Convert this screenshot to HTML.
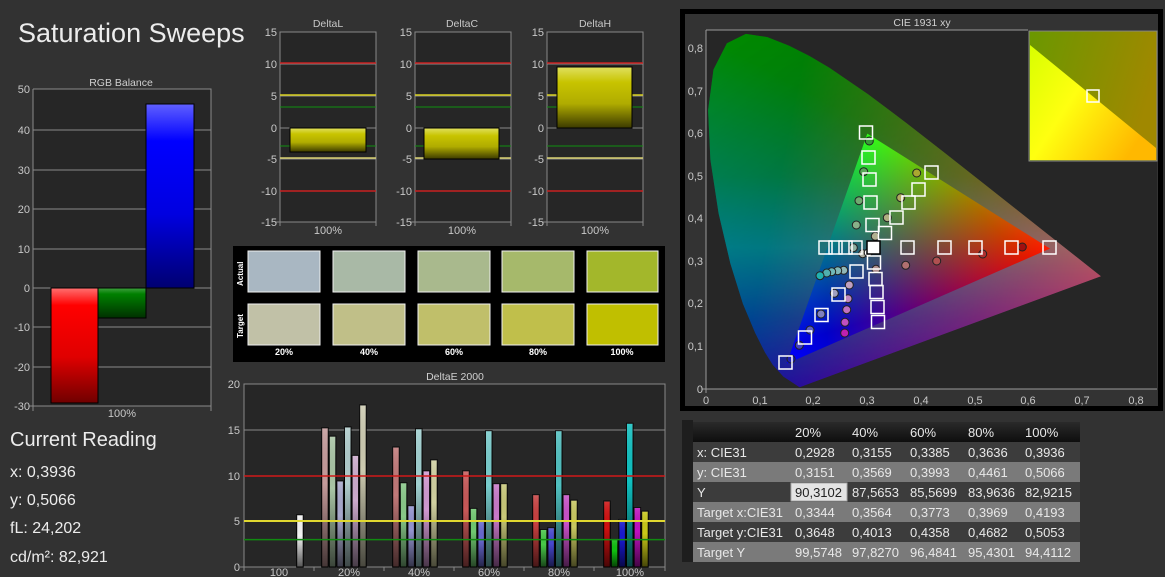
<!DOCTYPE html>
<html><head><meta charset="utf-8"><style>
html,body{margin:0;padding:0;background:#323232;}
svg{display:block;font-family:"Liberation Sans",sans-serif;}
</style></head><body>
<svg width="1165" height="577" viewBox="0 0 1165 577" xmlns="http://www.w3.org/2000/svg">
<defs>
<linearGradient id="yb" x1="0" y1="0" x2="0" y2="1"><stop offset="0" stop-color="#e0e060"/><stop offset="0.25" stop-color="#c8c400"/><stop offset="0.6" stop-color="#b0ac00"/><stop offset="1" stop-color="#3c3a00"/></linearGradient>
<linearGradient id="rb" x1="0" y1="0" x2="0" y2="1"><stop offset="0" stop-color="#ff7070"/><stop offset="0.15" stop-color="#ff0000"/><stop offset="0.6" stop-color="#e00000"/><stop offset="1" stop-color="#700000"/></linearGradient>
<linearGradient id="gb" x1="0" y1="0" x2="0" y2="1"><stop offset="0" stop-color="#40a040"/><stop offset="0.2" stop-color="#008000"/><stop offset="1" stop-color="#003000"/></linearGradient>
<linearGradient id="bb" x1="0" y1="0" x2="0" y2="1"><stop offset="0" stop-color="#6060ff"/><stop offset="0.2" stop-color="#0000ff"/><stop offset="0.6" stop-color="#0000e0"/><stop offset="1" stop-color="#000070"/></linearGradient>
<linearGradient id="sh" x1="0" y1="0" x2="0" y2="1"><stop offset="0" stop-color="#fff" stop-opacity="0.15"/><stop offset="0.4" stop-color="#000" stop-opacity="0"/><stop offset="1" stop-color="#000" stop-opacity="0.65"/></linearGradient>
<linearGradient id="thd" x1="0" y1="0" x2="0" y2="1"><stop offset="0" stop-color="#2a2a2a"/><stop offset="1" stop-color="#0e0e0e"/></linearGradient>
<linearGradient id="gR" gradientUnits="userSpaceOnUse" x1="1050" y1="248.6" x2="827" y2="248.7"><stop offset="0" stop-color="#f00"/><stop offset="1" stop-color="#000"/></linearGradient>
<linearGradient id="gG" gradientUnits="userSpaceOnUse" x1="867.3" y1="133.6" x2="918.3" y2="306.2"><stop offset="0" stop-color="#0f0"/><stop offset="1" stop-color="#000"/></linearGradient>
<linearGradient id="gB" gradientUnits="userSpaceOnUse" x1="786.6" y1="363.7" x2="958.7" y2="191.1"><stop offset="0" stop-color="#00f"/><stop offset="1" stop-color="#000"/></linearGradient>
<linearGradient id="hR" gradientUnits="userSpaceOnUse" x1="1101" y1="276.3" x2="771.9" y2="211.4"><stop offset="0" stop-color="#f00"/><stop offset="1" stop-color="#000"/></linearGradient>
<linearGradient id="hG" gradientUnits="userSpaceOnUse" x1="746.3" y1="33.4" x2="949.2" y2="332.8"><stop offset="0" stop-color="#0f0"/><stop offset="1" stop-color="#000"/></linearGradient>
<linearGradient id="hB" gradientUnits="userSpaceOnUse" x1="797.4" y1="389.3" x2="923.7" y2="154.9"><stop offset="0" stop-color="#00f"/><stop offset="1" stop-color="#000"/></linearGradient>
<linearGradient id="hBase" gradientUnits="userSpaceOnUse" x1="0" y1="35" x2="0" y2="389"><stop offset="0" stop-color="#006a00"/><stop offset="0.4" stop-color="#007a30"/><stop offset="0.6" stop-color="#008a88"/><stop offset="0.8" stop-color="#003a88"/><stop offset="1" stop-color="#100090"/></linearGradient>
<clipPath id="horse"><polygon points="799.6,387.2 783.4,376.6 772.7,364.7 764.9,352.3 755.1,332.7 742.9,303.8 730.4,263.6 718.6,213.4 710.4,159.8 708.1,110.2 713.5,69.5 726.9,43.2 745.9,33.9 767.4,37.1 789.2,45.8 809.7,56.1 829.4,67.8 868.1,94.2 906.5,123.1 944.7,152.9 981.5,181.9 1015.2,208.5 1043,230.5 1077.7,257.9 1092.5,269.6 1100.9,276.2"/></clipPath>
<clipPath id="tri"><polygon points="1050,248.6 867.3,133.6 786.6,363.7"/></clipPath>
<linearGradient id="ins1" x1="0" y1="0" x2="1" y2="0.3"><stop offset="0" stop-color="#6a9800"/><stop offset="1" stop-color="#a08800"/></linearGradient>
<linearGradient id="ins2" x1="0" y1="0" x2="1" y2="0.6"><stop offset="0" stop-color="#d8ff00"/><stop offset="0.45" stop-color="#ffff10"/><stop offset="1" stop-color="#ffb800"/></linearGradient>
</defs>

<rect width="1165" height="577" fill="#323232"/>
<text x="18" y="42" font-size="27" fill="#ececec">Saturation Sweeps</text>

<text x="121" y="86" font-size="10.5" fill="#d0d0d0" text-anchor="middle">RGB Balance</text>
<rect x="33" y="89" width="178" height="317" fill="#262626"/>
<g stroke="#8a8a8a" stroke-width="1">
<line x1="33" y1="130" x2="211" y2="130"/><line x1="33" y1="170" x2="211" y2="170"/><line x1="33" y1="209" x2="211" y2="209"/><line x1="33" y1="249" x2="211" y2="249"/><line x1="33" y1="288" x2="211" y2="288"/><line x1="33" y1="327" x2="211" y2="327"/><line x1="33" y1="367" x2="211" y2="367"/>
<polyline points="33,89 211,89 211,411" fill="none"/><polyline points="33,89 33,411" fill="none"/><line x1="29" y1="406" x2="211" y2="406"/>
</g>
<g font-size="11" fill="#c8c8c8" text-anchor="end">
<text x="30" y="93">50</text><text x="30" y="134">40</text><text x="30" y="174">30</text><text x="30" y="213">20</text><text x="30" y="253">10</text><text x="30" y="292">0</text><text x="30" y="331">-10</text><text x="30" y="371">-20</text><text x="30" y="410">-30</text>
</g>
<rect x="51" y="288" width="47" height="115" fill="url(#rb)" stroke="#000"/>
<rect x="98" y="288" width="48" height="30" fill="url(#gb)" stroke="#000"/>
<rect x="146" y="104" width="48" height="184" fill="url(#bb)" stroke="#000"/>
<text x="122" y="417" font-size="11" fill="#c8c8c8" text-anchor="middle">100%</text>

<text x="10" y="446" font-size="20" fill="#ececec">Current Reading</text>
<g font-size="16" fill="#ececec">
<text x="10" y="477">x: 0,3936</text><text x="10" y="505">y: 0,5066</text><text x="10" y="533">fL: 24,202</text><text x="10" y="562">cd/m²: 82,921</text>
</g>

<g font-size="11" fill="#c8c8c8">
<text x="328" y="27" text-anchor="middle" font-size="10.5">DeltaL</text>
<text x="462" y="27" text-anchor="middle" font-size="10.5">DeltaC</text>
<text x="595" y="27" text-anchor="middle" font-size="10.5">DeltaH</text>
</g>
<g id="dl">
<rect x="280" y="32" width="96" height="190" fill="#262626"/>
<g stroke="#888"><line x1="280" y1="64" x2="376" y2="64"/><line x1="280" y1="96" x2="376" y2="96"/><line x1="280" y1="128" x2="376" y2="128"/><line x1="280" y1="159" x2="376" y2="159"/><line x1="280" y1="191" x2="376" y2="191"/><polyline points="280,226 280,32 376,32 376,226" fill="none"/><line x1="276" y1="222" x2="376" y2="222"/></g>
<line x1="280" y1="63" x2="376" y2="63" stroke="#c82020" stroke-width="1.5"/><line x1="280" y1="191" x2="376" y2="191" stroke="#c82020" stroke-width="1.5"/>
<line x1="280" y1="95" x2="376" y2="95" stroke="#d8d020" stroke-width="1.5"/><line x1="280" y1="158" x2="376" y2="158" stroke="#d8d070" stroke-width="1.5"/>
<line x1="280" y1="107" x2="376" y2="107" stroke="#109010"/><line x1="280" y1="146" x2="376" y2="146" stroke="#109010"/>
</g>
<use href="#dl" x="135"/>
<use href="#dl" x="267"/>
<g font-size="11" fill="#c8c8c8" text-anchor="end">
<text x="277" y="36">15</text><text x="277" y="68">10</text><text x="277" y="100">5</text><text x="277" y="132">0</text><text x="277" y="163">-5</text><text x="277" y="195">-10</text><text x="277" y="226">-15</text>
<text x="412" y="36">15</text><text x="412" y="68">10</text><text x="412" y="100">5</text><text x="412" y="132">0</text><text x="412" y="163">-5</text><text x="412" y="195">-10</text><text x="412" y="226">-15</text>
<text x="544" y="36">15</text><text x="544" y="68">10</text><text x="544" y="100">5</text><text x="544" y="132">0</text><text x="544" y="163">-5</text><text x="544" y="195">-10</text><text x="544" y="226">-15</text>
</g>
<rect x="290" y="128" width="76" height="24" fill="url(#yb)" stroke="#000"/>
<rect x="424" y="128" width="75" height="31" fill="url(#yb)" stroke="#000"/>
<rect x="557" y="67" width="75" height="61" fill="url(#yb)" stroke="#000"/>
<g font-size="11" fill="#c8c8c8" text-anchor="middle"><text x="328" y="234">100%</text><text x="462" y="234">100%</text><text x="595" y="234">100%</text></g>

<rect x="233" y="246" width="432" height="116" fill="#000"/>
<g stroke="#f0f0f0" stroke-width="1">
<rect x="248" y="251" width="72" height="41" fill="#a9b7c2"/><rect x="333" y="251" width="72" height="41" fill="#a9b9a6"/><rect x="418" y="251" width="72" height="41" fill="#a9b98d"/><rect x="502" y="251" width="72" height="41" fill="#a6b96b"/><rect x="587" y="251" width="71" height="41" fill="#a3b72b"/>
<rect x="248" y="304" width="72" height="41" fill="#c1c1a7"/><rect x="333" y="304" width="72" height="41" fill="#c0bf88"/><rect x="418" y="304" width="72" height="41" fill="#c0bf6a"/><rect x="502" y="304" width="72" height="41" fill="#c0bf4b"/><rect x="587" y="304" width="71" height="41" fill="#c0bf00"/>
</g>
<g font-size="8" fill="#fff" font-weight="bold">
<text transform="translate(243,286) rotate(-90)">Actual</text><text transform="translate(243,338) rotate(-90)">Target</text>
</g>
<g font-size="9" fill="#fff" font-weight="bold" text-anchor="middle"><text x="284" y="355">20%</text><text x="369" y="355">40%</text><text x="454" y="355">60%</text><text x="538" y="355">80%</text><text x="622" y="355">100%</text></g>

<text x="455" y="380" font-size="10.5" fill="#d0d0d0" text-anchor="middle">DeltaE 2000</text>
<rect x="244" y="384" width="421" height="183" fill="#262626"/>
<g stroke="#888"><line x1="244" y1="430" x2="665" y2="430"/><line x1="244" y1="476" x2="665" y2="476"/><line x1="244" y1="521" x2="665" y2="521"/><polyline points="244,571 244,384 665,384 665,571" fill="none"/><line x1="240" y1="567" x2="665" y2="567"/>
<line x1="314" y1="567" x2="314" y2="571"/><line x1="384" y1="567" x2="384" y2="571"/><line x1="454" y1="567" x2="454" y2="571"/><line x1="524" y1="567" x2="524" y2="571"/><line x1="594" y1="567" x2="594" y2="571"/></g>
<g font-size="11" fill="#c8c8c8" text-anchor="end"><text x="240" y="388">20</text><text x="240" y="434">15</text><text x="240" y="480">10</text><text x="240" y="525">5</text><text x="240" y="571">0</text></g>
<g font-size="11" fill="#c8c8c8" text-anchor="middle"><text x="279" y="576">100</text><text x="349" y="576">20%</text><text x="419" y="576">40%</text><text x="489" y="576">60%</text><text x="559" y="576">80%</text><text x="630" y="576">100%</text></g>
<g stroke="#000" stroke-width="1">
<rect x="296.7" y="514.8" width="6.5" height="52.2" fill="#f4f4f4"/>
<rect x="321.7" y="427.9" width="6.5" height="139.1" fill="#c49a9a"/><rect x="329.3" y="436.2" width="6.5" height="130.8" fill="#a8c4a4"/><rect x="336.9" y="481" width="6.5" height="86" fill="#a8a8cc"/><rect x="344.5" y="427" width="6.5" height="140" fill="#b0cccc"/><rect x="352.1" y="455.4" width="6.5" height="111.6" fill="#ccaacc"/><rect x="359.7" y="405" width="6.5" height="162" fill="#cccab0"/>
<rect x="392.7" y="447.1" width="6.5" height="119.9" fill="#c07878"/><rect x="400.3" y="482.8" width="6.5" height="84.2" fill="#88c888"/><rect x="407.9" y="505.7" width="6.5" height="61.3" fill="#9494d0"/><rect x="415.5" y="428.8" width="6.5" height="138.2" fill="#a0d0d0"/><rect x="423.1" y="470.9" width="6.5" height="96.1" fill="#d098d0"/><rect x="430.7" y="459.9" width="6.5" height="107.1" fill="#d0d0a0"/>
<rect x="462.7" y="470.9" width="6.5" height="96.1" fill="#c85858"/><rect x="470.3" y="508.4" width="6.5" height="58.6" fill="#70c870"/><rect x="477.9" y="521.2" width="6.5" height="45.8" fill="#6868d0"/><rect x="485.5" y="430.7" width="6.5" height="136.3" fill="#78cccc"/><rect x="493.1" y="483.7" width="6.5" height="83.3" fill="#c878c8"/><rect x="500.7" y="483.7" width="6.5" height="83.3" fill="#c8c878"/>
<rect x="532.7" y="494.7" width="6.5" height="72.3" fill="#c84040"/><rect x="540.3" y="529.5" width="6.5" height="37.5" fill="#48c848"/><rect x="547.9" y="527.7" width="6.5" height="39.3" fill="#4848d0"/><rect x="555.5" y="430.7" width="6.5" height="136.3" fill="#50c0c0"/><rect x="563.1" y="494.7" width="6.5" height="72.3" fill="#c850c8"/><rect x="570.7" y="500.2" width="6.5" height="66.8" fill="#c8c860"/>
<rect x="603.7" y="501.1" width="6.5" height="65.9" fill="#d01010"/><rect x="611.3" y="539.5" width="6.5" height="27.5" fill="#10c010"/><rect x="618.9" y="519.4" width="6.5" height="47.6" fill="#1818d0"/><rect x="626.5" y="423.3" width="6.5" height="143.7" fill="#10c0c0"/><rect x="634.1" y="507.5" width="6.5" height="59.5" fill="#c010c0"/><rect x="641.7" y="511.2" width="6.5" height="55.8" fill="#c8c818"/>
</g>
<g fill="url(#sh)">
<rect x="296.7" y="514.8" width="6.5" height="52.2"/>
<rect x="321.7" y="427.9" width="6.5" height="139.1"/><rect x="329.3" y="436.2" width="6.5" height="130.8"/><rect x="336.9" y="481" width="6.5" height="86"/><rect x="344.5" y="427" width="6.5" height="140"/><rect x="352.1" y="455.4" width="6.5" height="111.6"/><rect x="359.7" y="405" width="6.5" height="162"/>
<rect x="392.7" y="447.1" width="6.5" height="119.9"/><rect x="400.3" y="482.8" width="6.5" height="84.2"/><rect x="407.9" y="505.7" width="6.5" height="61.3"/><rect x="415.5" y="428.8" width="6.5" height="138.2"/><rect x="423.1" y="470.9" width="6.5" height="96.1"/><rect x="430.7" y="459.9" width="6.5" height="107.1"/>
<rect x="462.7" y="470.9" width="6.5" height="96.1"/><rect x="470.3" y="508.4" width="6.5" height="58.6"/><rect x="477.9" y="521.2" width="6.5" height="45.8"/><rect x="485.5" y="430.7" width="6.5" height="136.3"/><rect x="493.1" y="483.7" width="6.5" height="83.3"/><rect x="500.7" y="483.7" width="6.5" height="83.3"/>
<rect x="532.7" y="494.7" width="6.5" height="72.3"/><rect x="540.3" y="529.5" width="6.5" height="37.5"/><rect x="547.9" y="527.7" width="6.5" height="39.3"/><rect x="555.5" y="430.7" width="6.5" height="136.3"/><rect x="563.1" y="494.7" width="6.5" height="72.3"/><rect x="570.7" y="500.2" width="6.5" height="66.8"/>
<rect x="603.7" y="501.1" width="6.5" height="65.9"/><rect x="611.3" y="539.5" width="6.5" height="27.5"/><rect x="618.9" y="519.4" width="6.5" height="47.6"/><rect x="626.5" y="423.3" width="6.5" height="143.7"/><rect x="634.1" y="507.5" width="6.5" height="59.5"/><rect x="641.7" y="511.2" width="6.5" height="55.8"/>
</g>
<line x1="244" y1="476" x2="665" y2="476" stroke="#d01818" stroke-width="1.5"/>
<line x1="244" y1="521" x2="665" y2="521" stroke="#e0d830" stroke-width="2"/>
<line x1="244" y1="539.6" x2="665" y2="539.6" stroke="#108a10" stroke-width="1.5"/>

<rect x="682.5" y="11.5" width="478" height="397" fill="#333" stroke="#000" stroke-width="5"/>
<text x="922" y="26" font-size="10.5" fill="#d0d0d0" text-anchor="middle">CIE 1931 xy</text>
<rect x="706" y="30" width="451" height="359" fill="#262626"/>
<g stroke="#999"><polyline points="706,30 1028,30" fill="none"/><line x1="706" y1="30" x2="706" y2="393"/><line x1="702" y1="389" x2="1157" y2="389"/></g>
<g clip-path="url(#horse)">
<g style="isolation:isolate">
<rect x="700" y="28" width="410" height="365" fill="url(#hBase)"/>
<rect x="700" y="28" width="410" height="365" fill="url(#hR)" style="mix-blend-mode:screen"/>
<rect x="700" y="28" width="410" height="365" fill="url(#hG)" style="mix-blend-mode:screen" opacity="0.6"/>
<rect x="700" y="28" width="410" height="365" fill="url(#hB)" style="mix-blend-mode:screen" opacity="0.7"/>
</g>
<rect x="700" y="28" width="410" height="365" fill="#000" opacity="0.3"/>
</g>
<g clip-path="url(#tri)" style="isolation:isolate">
<rect x="780" y="130" width="275" height="240" fill="#000"/>
<rect x="780" y="130" width="275" height="240" fill="url(#gR)" style="mix-blend-mode:screen"/>
<rect x="780" y="130" width="275" height="240" fill="url(#gG)" style="mix-blend-mode:screen"/>
<rect x="780" y="130" width="275" height="240" fill="url(#gB)" style="mix-blend-mode:screen"/>
</g>
<g font-size="11" fill="#c8c8c8" text-anchor="end">
<text x="703" y="52">0,8</text><text x="703" y="95">0,7</text><text x="703" y="137">0,6</text><text x="703" y="180">0,5</text><text x="703" y="222">0,4</text><text x="703" y="265">0,3</text><text x="703" y="307">0,2</text><text x="703" y="350">0,1</text><text x="703" y="393">0</text>
</g>
<g font-size="11" fill="#c8c8c8" text-anchor="middle">
<text x="706" y="404">0</text><text x="760" y="404">0,1</text><text x="813" y="404">0,2</text><text x="867" y="404">0,3</text><text x="921" y="404">0,4</text><text x="975" y="404">0,5</text><text x="1028" y="404">0,6</text><text x="1082" y="404">0,7</text><text x="1136" y="404">0,8</text>
</g>
<g stroke="#222" stroke-width="1">
<circle cx="869.3" cy="141" r="4" fill="#3a9a3a"/><circle cx="863.7" cy="171.7" r="4" fill="#58a858"/><circle cx="859" cy="200.7" r="4" fill="#70aa70"/><circle cx="856.3" cy="225" r="4" fill="#88b088"/>
<circle cx="875.3" cy="236.3" r="4" fill="#b0b090"/><circle cx="887.3" cy="217.7" r="4" fill="#b0ae80"/><circle cx="900.7" cy="197.7" r="4" fill="#b0ac60"/><circle cx="916.7" cy="173" r="4" fill="#aaa830"/>
<circle cx="862.7" cy="253.7" r="4" fill="#b0b0a0"/><circle cx="868.3" cy="252.7" r="4" fill="#ffffff"/><circle cx="853.3" cy="247.7" r="4" fill="#90b0a0"/>
<circle cx="843.7" cy="270.3" r="4" fill="#90b8b8"/><circle cx="837.7" cy="270.7" r="4" fill="#80b8b8"/><circle cx="831.7" cy="271.7" r="4" fill="#70b8b8"/><circle cx="826.7" cy="273" r="4" fill="#50b0b0"/><circle cx="820" cy="275.7" r="4" fill="#20b0b0"/>
<circle cx="876" cy="269.3" r="4" fill="#b09090"/><circle cx="905.7" cy="265.3" r="4" fill="#b07070"/><circle cx="936.7" cy="261" r="4" fill="#b05050"/><circle cx="982.7" cy="254" r="4" fill="#b03030"/><circle cx="1022.3" cy="247" r="4" fill="#a01010"/>
<circle cx="849.3" cy="285" r="4" fill="#c0a0c0"/><circle cx="848" cy="298.7" r="4" fill="#c088c0"/><circle cx="846.7" cy="309.7" r="4" fill="#c070c0"/><circle cx="845" cy="322.3" r="4" fill="#c050c0"/><circle cx="844.7" cy="333" r="4" fill="#c020b0"/>
<circle cx="834.3" cy="293.3" r="4" fill="#a0a0c0"/><circle cx="821" cy="314" r="4" fill="#8080c0"/><circle cx="810" cy="330" r="4" fill="#6060c0"/><circle cx="799.3" cy="345.3" r="4" fill="#4040c0"/><circle cx="791" cy="359" r="4" fill="#2020b0"/>
</g>
<g fill="none" stroke="#fff" stroke-width="1.5">
<rect x="859.5" y="126" width="13" height="13"/><rect x="862" y="151" width="13" height="13"/><rect x="863" y="173" width="13" height="13"/><rect x="864" y="196" width="13" height="13"/><rect x="866" y="218.5" width="13" height="13"/>
<rect x="878.5" y="226.5" width="13" height="13"/><rect x="890" y="211" width="13" height="13"/><rect x="902" y="196" width="13" height="13"/><rect x="912" y="183" width="13" height="13"/><rect x="925" y="166" width="13" height="13"/>
<rect x="819" y="241" width="13" height="13"/><rect x="829" y="241" width="13" height="13"/><rect x="839" y="241" width="13" height="13"/><rect x="849" y="241" width="13" height="13"/>
<rect x="901" y="241" width="13" height="13"/><rect x="938" y="241" width="13" height="13"/><rect x="969" y="241" width="13" height="13"/><rect x="1005" y="241" width="13" height="13"/><rect x="1043" y="241" width="13" height="13"/>
<rect x="867.5" y="256" width="13" height="13"/><rect x="869" y="272.5" width="13" height="13"/><rect x="870" y="285.5" width="13" height="13"/><rect x="871" y="300.5" width="13" height="13"/><rect x="871.5" y="315.5" width="13" height="13"/>
<rect x="850" y="265" width="13" height="13"/><rect x="832" y="288" width="13" height="13"/><rect x="815" y="308.5" width="13" height="13"/><rect x="798.5" y="331" width="13" height="13"/><rect x="779" y="356" width="13" height="13"/>
</g>
<rect x="867" y="241" width="13" height="13" fill="#fff" stroke="#000" stroke-width="1.5"/>
<rect x="1029" y="31" width="128" height="130" fill="url(#ins1)" stroke="#888"/>
<polygon points="1030,45 1156,148 1156,160 1030,160" fill="url(#ins2)"/>
<rect x="1087" y="90" width="12" height="12" fill="none" stroke="#fff" stroke-width="1.5"/>

<rect x="682" y="420" width="11" height="142" fill="#1e1e1e"/>
<rect x="693" y="422" width="387" height="20" fill="url(#thd)"/>
<rect x="693" y="442" width="387" height="20" fill="#3c3c3c"/>
<rect x="693" y="462" width="387" height="20" fill="#7a7a7a"/>
<rect x="693" y="482" width="387" height="20" fill="#3c3c3c"/>
<rect x="693" y="502" width="387" height="20" fill="#7a7a7a"/>
<rect x="693" y="522" width="387" height="20" fill="#3c3c3c"/>
<rect x="693" y="542" width="387" height="20" fill="#7a7a7a"/>
<rect x="791" y="483" width="56" height="18" fill="#e4e4e4" stroke="#aaa"/>
<g font-size="13" fill="#e8e8e8">
<text x="795" y="437">20%</text><text x="852" y="437">40%</text><text x="910" y="437">60%</text><text x="968" y="437">80%</text><text x="1025" y="437">100%</text>
<text x="697" y="457">x: CIE31</text><text x="795" y="457">0,2928</text><text x="852" y="457">0,3155</text><text x="910" y="457">0,3385</text><text x="968" y="457">0,3636</text><text x="1025" y="457">0,3936</text>
<text x="697" y="477">y: CIE31</text><text x="795" y="477">0,3151</text><text x="852" y="477">0,3569</text><text x="910" y="477">0,3993</text><text x="968" y="477">0,4461</text><text x="1025" y="477">0,5066</text>
<text x="697" y="497">Y</text><text x="795" y="497" fill="#222">90,3102</text><text x="852" y="497">87,5653</text><text x="910" y="497">85,5699</text><text x="968" y="497">83,9636</text><text x="1025" y="497">82,9215</text>
<text x="697" y="517">Target x:CIE31</text><text x="795" y="517">0,3344</text><text x="852" y="517">0,3564</text><text x="910" y="517">0,3773</text><text x="968" y="517">0,3969</text><text x="1025" y="517">0,4193</text>
<text x="697" y="537">Target y:CIE31</text><text x="795" y="537">0,3648</text><text x="852" y="537">0,4013</text><text x="910" y="537">0,4358</text><text x="968" y="537">0,4682</text><text x="1025" y="537">0,5053</text>
<text x="697" y="557">Target Y</text><text x="795" y="557">99,5748</text><text x="852" y="557">97,8270</text><text x="910" y="557">96,4841</text><text x="968" y="557">95,4301</text><text x="1025" y="557">94,4112</text>
</g>
</svg>
</body></html>
